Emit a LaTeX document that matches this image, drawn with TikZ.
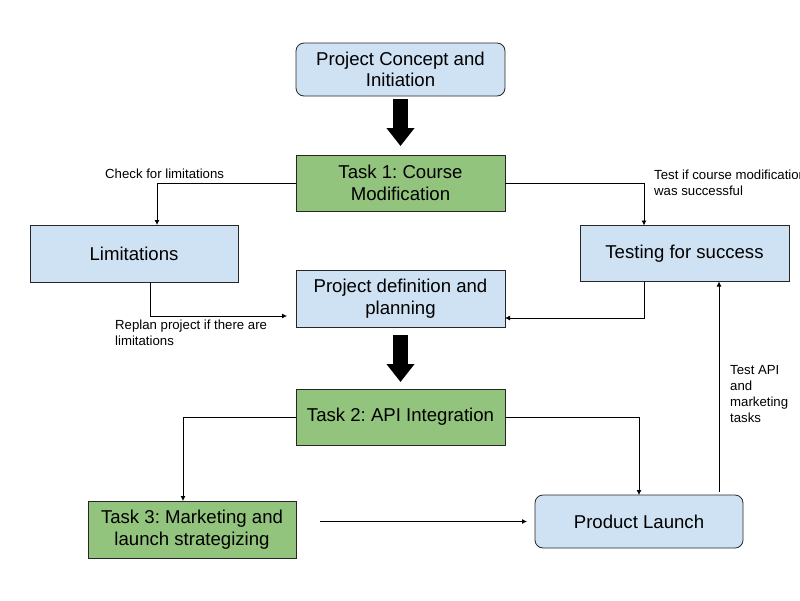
\documentclass[tikz,border=0pt]{standalone}
\usepackage{fontspec}
\setmainfont{Liberation Sans}
\frenchspacing
\usetikzlibrary{arrows.meta}
\definecolor{boxblue}{HTML}{CFE2F3}
\definecolor{boxgreen}{HTML}{93C47D}
\tikzstyle{box}=[draw=black!85, line width=0.8pt, inner sep=0, outer sep=0, align=center,
                 minimum width=209pt, minimum height=56pt, font=\fontsize{18.6}{21.5}\selectfont]
\tikzstyle{bluebox}=[box, fill=boxblue]
\tikzstyle{greenbox}=[box, fill=boxgreen]
\tikzstyle{roundbox}=[bluebox, rounded corners=8pt, minimum height=53pt]
\tikzstyle{conn}=[draw=black, line width=0.8pt, -{Latex[length=5pt,width=5pt]}]
\tikzstyle{bigarrow}=[line width=15pt, -{Triangle[length=18pt,width=27pt]}]
\tikzstyle{note}=[inner sep=0, align=left, font=\fontsize{13.2}{16}\selectfont]

\begin{document}
\begin{tikzpicture}[x=1pt, y=-1pt]
        % page
        \useasboundingbox[fill=white] (0, 0) rectangle (800, 600);
        \node[roundbox, text depth=0pt, yshift=-1pt] (concept) at (400.5, 68.5) {Project Concept and\\Initiation};
        \node[greenbox] (task1) at (400.5, 183) {Task 1: Course\\Modification};
        \node[bluebox, minimum width=208pt, minimum height=57pt] (lim) at (134, 253.5) {Limitations};
        \node[bluebox] (test) at (684.5, 253.5) {Testing for success};
        \node[bluebox, minimum height=57pt] (pd) at (400.5, 298.5) {Project definition and\\planning};
        \node[greenbox] (task2) at (400.5, 417) {Task 2: API Integration};
        \node[greenbox, minimum width=208pt, minimum height=57pt] (task3) at (192, 529.5) {Task 3: Marketing and\\launch strategizing};
        \node[roundbox, minimum width=208pt] (launch) at (639, 521.5) {Product Launch};

        % main flow
        \draw[bigarrow, shorten <=3pt, shorten >=9pt] (concept.south) -- (task1.north);
        \draw[bigarrow, shorten <=8pt, shorten >=7pt] (pd.south) -- (task2.north);

        % side loops
        \draw[conn] (task1.west) -| ([xshift=23pt]lim.north);
        \draw[conn] (task1.east) -| ([xshift=-40.5pt]test.north);
        \draw[conn] ([xshift=16pt]lim.south) |- ([xshift=-9pt, yshift=-17.5pt]pd.west);
        \draw[conn] ([xshift=-40.5pt]test.south) |- ([yshift=-19.5pt]pd.east);
        \draw[conn] (task2.west) -| ([xshift=-9pt]task3.north);
        \draw[conn] (task2.east) -| (launch.north);
        \draw[conn, shorten <=24pt, shorten >=8pt] ([yshift=8pt]task3.east) -- (launch.west);
        \draw[conn] ([xshift=80pt, yshift=3pt]launch.north) -- ([xshift=80pt]launch.north |- test.south);

        % labels
        \node[note, anchor=west] (checklbl) at (105, 173.5) {Check for limitations};
        \node[note, anchor=north west] (testlbl) at (654, 170) {Test if course modification\\was successful};
        \node[note, anchor=north west] (replanlbl) at (115, 320) {Replan project if there are\\limitations};
        \node[note, anchor=north west] (apilbl) at (730, 365) {Test API\\and\\marketing\\tasks};
    \end{tikzpicture}
\end{document}
